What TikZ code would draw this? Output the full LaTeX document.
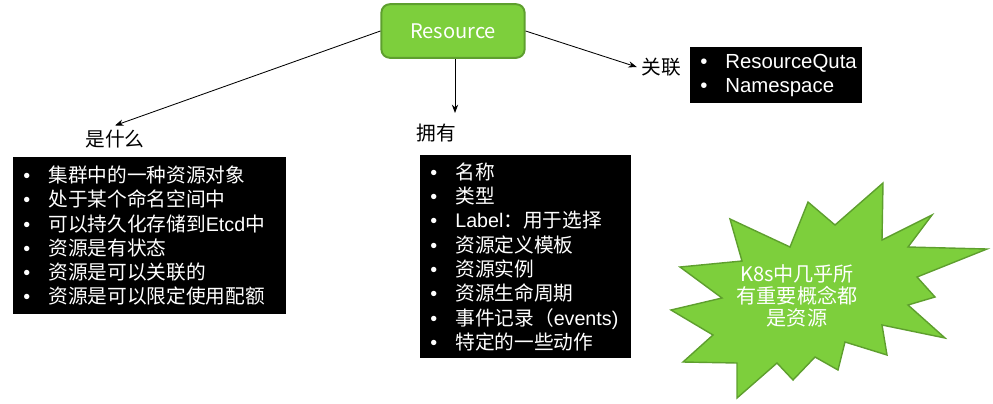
\documentclass[tikz,border=0pt]{standalone}
\usepackage{fontspec}
\setmainfont{Liberation Sans}
\newfontfamily\cjk{Noto Sans CJK SC}
\usetikzlibrary{positioning,arrows.meta}
\definecolor{resgreen}{HTML}{7DCF3C}
\definecolor{resedge}{HTML}{5E9F2E}
\newcommand{\bul}{\makebox[17.8pt][l]{•}}
\tikzset{
  resbox/.style={rectangle, rounded corners=6pt, draw=resedge, line width=1.4pt,
    fill=resgreen, text=white, minimum width=3.58cm, minimum height=1.34cm,
    font=\cjk\fontsize{14.3}{17}\selectfont},
  listbox/.style={rectangle, fill=black, text=white, anchor=north west, align=left,
    inner xsep=0.25cm, inner ysep=0pt},
  tag/.style={font=\cjk\fontsize{14}{17}\selectfont, inner sep=3pt},
  conn/.style={-{Stealth[length=6pt,width=4.5pt]}, line width=0.6pt},
}
\begin{document}
\begin{tikzpicture}[x=0.025cm, y=-0.025cm]
  \useasboundingbox (0,0) rectangle (993,403);

  % Resource in the middle
  \node[resbox] (res) at (453,31) {Resource};

  % three labels
  \node[tag] (what) at (115,139) {是什么};
  \node[tag] (how) at (436,133) {拥有};
  \node[tag] (rel) at (661,67) {关联};

  \draw[conn] (res.west) -- (what.north);
  \draw[conn] (res.south -| 455,0) -- (455,113);
  \draw[conn] (res.east) -- (rel.west);

  % left list
  \node[listbox, text width=6.325cm, minimum height=3.925cm,
        font=\fontsize{14}{17.2}\selectfont] (whatlist) at (13,157) {%
    \bul{\cjk 集群中的一种资源对象}\\
    \bul{\cjk 处于某个命名空间中}\\
    \bul{\cjk 可以持久化存储到}Etcd{\cjk 中}\\
    \bul{\cjk 资源是有状态}\\
    \bul{\cjk 资源是可以关联的}\\
    \bul{\cjk 资源是可以限定使用配额}};

  % middle list
  \node[listbox, text width=4.775cm, minimum height=5.075cm,
        font=\fontsize{14}{17.3}\selectfont] (howlist) at (420,155) {%
    \bul{\cjk 名称}\\
    \bul{\cjk 类型}\\
    \bul Label{\cjk ：用于选择}\\
    \bul{\cjk 资源定义模板}\\
    \bul{\cjk 资源实例}\\
    \bul{\cjk 资源生命周期}\\
    \bul{\cjk 事件记录（}events)\\
    \bul{\cjk 特定的一些动作}};

  % right list
  \node[listbox, text width=3.8cm, minimum height=1.4cm,
        font=\fontsize{14.5}{17}\selectfont] (rellist) at (690,47) {%
    \bul ResourceQuta\\
    \bul Namespace};

  % starburst note
  \draw[fill=resgreen, draw=resedge, line width=1pt]
    (883,183) -- (882,240) -- (932,215) -- (908,247) -- (987,249) -- (917,277)
    -- (935,297) -- (908,305) -- (945,338) -- (882,325) -- (887,355) -- (845,342)
    -- (838,370) -- (815,357) -- (793,380) -- (777,363) -- (737,398) -- (737,363)
    -- (683,362) -- (713,335) -- (671,310) -- (722,298) -- (680,267) -- (742,261)
    -- (730,219) -- (790,247) -- (808,202) -- (835,225) -- cycle;
  \node[align=center, text=white, font=\cjk\fontsize{14.3}{15.6}\selectfont] (note) at (797,296)
    {K8s中几乎所\\有重要概念都\\是资源};
\end{tikzpicture}
\end{document}
